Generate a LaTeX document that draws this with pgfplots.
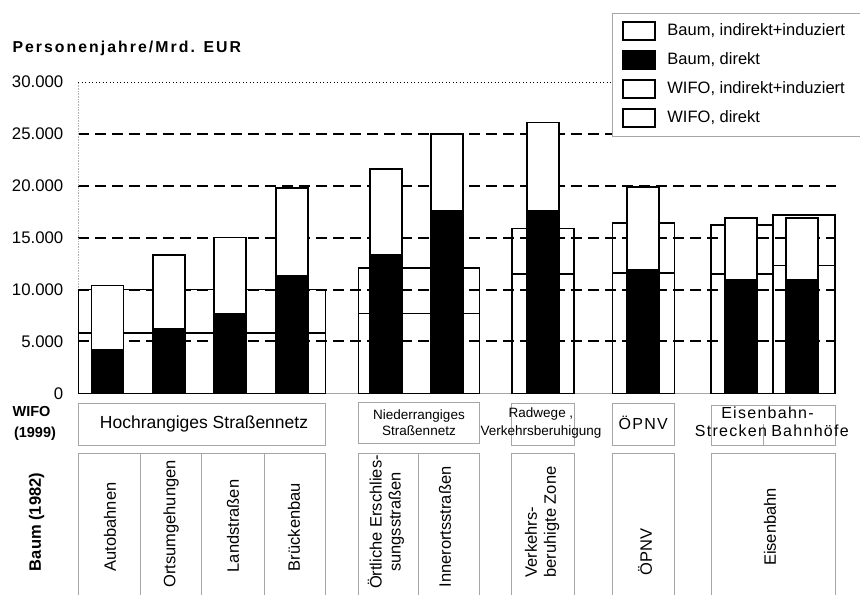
\documentclass[border=0pt]{standalone}
\usepackage{fontspec}
\setmainfont{Liberation Sans}
\newfontfamily\lsfont[LetterSpace=8]{Liberation Sans}
\newfontfamily\titlefont[LetterSpace=13]{Liberation Sans}
\usepackage{pgfplots}
\usepackage{pgfplotstable}
\pgfplotsset{compat=1.18}
\newcommand\fs[2]{\fontsize{#1bp}{#2bp}\selectfont}

% Baum (1982): x = bar centre (px), direct, total (direct + indirekt/induziert)
\pgfplotstableread{
x      direct total
107.3  4200  10400
168.8  6200  13300
230.0  7700  15000
291.7  11300 19800
386.0  13300 21600
446.7  17600 25000
543.0  17600 26100
643.0  11900 19900
740.7  10900 16900
802.0  10900 16900
}\baum
% WIFO (1999)
\pgfplotstableread{
x      direct total
201.7  5800  10000
}\wifoA
\pgfplotstableread{
x      direct total
419.0  7700  12100
}\wifoB
\pgfplotstableread{
x      direct total
543.0  11500 15900
643.5  11600 16400
742.0  11500 16200
803.7  12300 17200
}\wifoC

\begin{document}
\begin{tikzpicture}
\useasboundingbox (0,0) rectangle (860bp,-595bp);
\begin{axis}[
  at={(78bp,-393.3bp)}, anchor=south west,
  scale only axis, width=758bp, height=311.3bp,
  xmin=78, xmax=836, ymin=0, ymax=30000,
  axis x line*=bottom, axis y line*=left,
  x axis line style={gray!70, line width=0.8bp},
  y axis line style={gray!60, densely dotted, line width=0.6bp},
  xtick=\empty,
  ytick={5000,10000,15000,20000,25000},
  extra y ticks={0,30000},
  extra y tick style={grid=none},
  ymajorgrids,
  major grid style={black, line width=2bp, dash pattern=on 11bp off 6bp},
  major tick length=0pt,
  scaled y ticks=false,
  /pgf/number format/1000 sep={.},
  /pgf/number format/assume math mode=true,
  yticklabel={\hbox{\fs{16.8}{18}\pgfmathprintnumber{\tick}}},
  extra y tick label={\hbox{\fs{16.8}{18}\pgfmathprintnumber{\tick}}},
  tick label style={font=\fs{16.8}{18}},
  yticklabel style={anchor=east, inner xsep=0pt, xshift=-14.5bp},
  legend style={at={(0.7045,1.2226)}, anchor=north west, draw=gray!70,
    line width=0.6bp, fill=white, font=\fs{16.5}{18},
    inner xsep=10bp, inner ysep=8bp, row sep=9.5bp, column sep=0bp,
    nodes={inner xsep=0pt, inner ysep=0pt, text height=12bp, text depth=3bp}},
  legend cell align=left,
]
% WIFO bars (transparent)
\addplot[forget plot, ybar, bar width=247.3, bar shift=0pt, draw=black, line width=1.6bp, fill=none] table[x=x,y=total]{\wifoA};
\addplot[forget plot, ybar, bar width=247.3, bar shift=0pt, draw=black, line width=1.6bp, fill=none] table[x=x,y=direct]{\wifoA};
\addplot[forget plot, ybar, bar width=121, bar shift=0pt, draw=black, line width=1.6bp, fill=none] table[x=x,y=total]{\wifoB};
\addplot[forget plot, ybar, bar width=121, bar shift=0pt, draw=black, line width=1.6bp, fill=none] table[x=x,y=direct]{\wifoB};
\addplot[forget plot, ybar, bar width=62, bar shift=0pt, draw=black, line width=1.6bp, fill=none] table[x=x,y=total]{\wifoC};
\addplot[forget plot, ybar, bar width=62, bar shift=0pt, draw=black, line width=1.6bp, fill=none] table[x=x,y=direct]{\wifoC};
% dotted 30.000 line
\addplot[forget plot, black, line width=1bp, dash pattern=on 1bp off 2.5bp] coordinates {(78,30000) (836,30000)};
% Baum bars
\addplot[forget plot, ybar, bar width=32, bar shift=0pt, draw=black, line width=1.6bp, fill=white] table[x=x,y=total]{\baum};
\addplot[forget plot, ybar, bar width=32, bar shift=0pt, draw=black, line width=1.6bp, fill=black] table[x=x,y=direct]{\baum};
% legend
\addlegendimage{legend image code/.code={\draw[black, line width=1.6bp, fill=white] (0bp,-9bp) rectangle (32bp,9bp); \path (44bp,0bp);}}
\addlegendentry{Baum, indirekt+induziert\hspace*{14bp}}
\addlegendimage{legend image code/.code={\draw[black, line width=1.6bp, fill=black] (0bp,-9bp) rectangle (32bp,9bp); \path (44bp,0bp);}}
\addlegendentry{Baum, direkt}
\addlegendimage{legend image code/.code={\draw[black, line width=1.6bp, fill=white] (0bp,-9bp) rectangle (32bp,9bp); \path (44bp,0bp);}}
\addlegendentry{WIFO, indirekt+induziert}
\addlegendimage{legend image code/.code={\draw[black, line width=1.6bp, fill=white] (0bp,-9bp) rectangle (32bp,9bp); \path (44bp,0bp);}}
\addlegendentry{WIFO, direkt}
\end{axis}

% title
\node[anchor=west, font=\titlefont\bfseries\fs{15.8}{18}] at (9bp,-48.3bp) {Personenjahre/Mrd. EUR};

% row labels
\node[font=\bfseries\fs{14.5}{17}] at (31.5bp,-411.5bp) {WIFO};
\node[font=\bfseries\fs{14.5}{17}] at (35bp,-433.5bp) {(1999)};
\node[rotate=90, font=\bfseries\fs{16.5}{18}] at (36.7bp,-522bp) {Baum (1982)};

% WIFO row boxes
\begin{scope}[gray!70, line width=0.7bp]
\draw (78bp,-403bp) rectangle (325.3bp,-445bp);
\draw (358.5bp,-402bp) rectangle (479.3bp,-443bp);
\draw (511.7bp,-403bp) rectangle (574.3bp,-445bp);
\draw (612.3bp,-403bp) rectangle (674.3bp,-445bp);
\draw (711bp,-405bp) rectangle (835bp,-445bp);
\draw (763bp,-424bp) -- (763bp,-445bp);
% Baum row boxes
\draw (78bp,-595bp) -- (78bp,-453.5bp) -- (325.3bp,-453.5bp) -- (325.3bp,-595bp);
\draw (140bp,-453.5bp) -- (140bp,-595bp);
\draw (201.7bp,-453.5bp) -- (201.7bp,-595bp);
\draw (264.3bp,-453.5bp) -- (264.3bp,-595bp);
\draw (358.5bp,-595bp) -- (358.5bp,-453.5bp) -- (479.3bp,-453.5bp) -- (479.3bp,-595bp);
\draw (418.5bp,-453.5bp) -- (418.5bp,-595bp);
\draw (511.7bp,-595bp) -- (511.7bp,-453.5bp) -- (574.3bp,-453.5bp) -- (574.3bp,-595bp);
\draw (612.3bp,-595bp) -- (612.3bp,-453.5bp) -- (674.3bp,-453.5bp) -- (674.3bp,-595bp);
\draw (711bp,-595bp) -- (711bp,-453.5bp) -- (835bp,-453.5bp) -- (835bp,-595bp);
\end{scope}

% WIFO row texts
\node[font=\fs{17.5}{20}] at (204bp,-424bp) {Hochrangiges Straßennetz};
\node[font=\fs{13.5}{16.5}, align=center] at (419bp,-422.5bp) {Niederrangiges\\Straßennetz};
\node[font=\fs{13.5}{17.5}, align=center] at (541bp,-423bp) {Radwege ,\\Verkehrsberuhigung};
\node[font=\lsfont\fs{16}{18}] at (643.3bp,-422.5bp) {ÖPNV};
\node[font=\lsfont\fs{16}{18}, anchor=base] at (767.5bp,-418.3bp) {Eisenbahn-};
\node[font=\lsfont\fs{16}{18}, anchor=base] at (731bp,-436.5bp) {Strecken};
\node[font=\lsfont\fs{16}{18}, anchor=base] at (810bp,-436.5bp) {Bahnhöfe};

% Baum row texts
\begin{scope}[every node/.style={rotate=90, font=\fs{16.5}{19}}]
\node at (110bp,-527bp) {Autobahnen};
\node at (171bp,-524bp) {Ortsumgehungen};
\node at (233bp,-526bp) {Landstraßen};
\node at (294bp,-527bp) {Brückenbau};
\node[align=center] at (386bp,-522bp) {Örtliche Erschlies-\\sungsstraßen};
\node at (445bp,-527bp) {Innerortsstraßen};
\node[align=left] at (542bp,-522bp) {Verkehrs-\\beruhigte Zone};
\node at (645bp,-552bp) {ÖPNV};
\node at (770bp,-527bp) {Eisenbahn};
\end{scope}
\end{tikzpicture}
\end{document}
